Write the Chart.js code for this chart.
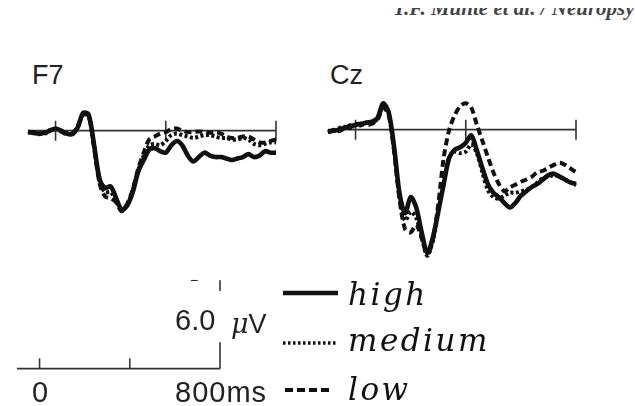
<!DOCTYPE html>
<html>
<head>
<meta charset="utf-8">
<script src="https://cdn.jsdelivr.net/npm/chart.js@4.4.0/dist/chart.umd.min.js"></script>
<style>
	body { margin: 0; background: #fff; }
	#page { position: relative; width: 635px; height: 406px; overflow: hidden; background: #fff; color: #222; }
	#page canvas { position: absolute; }
	.lbl { position: absolute; font-family: "Liberation Sans", Arial, sans-serif; line-height: 1; white-space: nowrap; }
	.leg { position: absolute; font-family: "DejaVu Serif", serif; font-style: italic; font-size: 31px; line-height: 1; white-space: nowrap; letter-spacing: 2.5px; color: #111; }
	#head { position: absolute; left: 393px; top: 8px; height: 12px; width: 242px; overflow: hidden; }
	#head span { position: absolute; left: 0; top: -10px; font-family: "Liberation Serif", serif; font-style: italic; font-weight: bold; font-size: 21px; line-height: 21px; color: #444; white-space: nowrap; }
	svg { position: absolute; left: 0; top: 0; }
</style>
</head>
<body>
<div id="page">
	<div id="head"><span>T.F. Münte et al. / Neuropsy</span></div>

	<div class="lbl" style="left:32px; top:62px; font-size:27px;">F7</div>
	<div class="lbl" style="left:330px; top:62px; font-size:27px;">Cz</div>

	<canvas id="f7" width="268" height="152" style="left:18px; top:84px;"></canvas>
	<canvas id="cz" width="268" height="196" style="left:318px; top:83px;"></canvas>
	<canvas id="bar" width="223" height="123" style="left:7px; top:263px;"></canvas>

	<div class="lbl" style="left:190px; top:273px; font-size:14px;">−</div>
	<div class="lbl" style="left:175px; top:306px; font-size:29px;">6.0</div>
	<div class="lbl" style="left:231px; top:310px; font-size:27px;"><span style="font-family:'DejaVu Serif',serif; font-style:italic;">μ</span>V</div>
	<div class="lbl" style="left:32px; top:378px; font-size:29px;">0</div>
	<div class="lbl" style="left:175px; top:378px; font-size:29px; letter-spacing:1px;">800ms</div>

	<svg width="635" height="406">
		<line x1="283" y1="293" x2="338" y2="293" stroke="#111" stroke-width="4.5"/>
		<line x1="283" y1="343" x2="338" y2="343" stroke="#111" stroke-width="3.5" stroke-dasharray="2.5 2.5"/>
		<line x1="285" y1="390" x2="331" y2="390" stroke="#111" stroke-width="4" stroke-dasharray="8 4"/>
	</svg>
	<div class="leg" style="left:348px; top:279px;">high</div>
	<div class="leg" style="left:348px; top:325px;">medium</div>
	<div class="leg" style="left:348px; top:374px;">low</div>
</div>

<script>
// time (ms) and amplitude (µV, negative up)
const times = [-100, -80, -60, -40, -20, 0, 20, 40, 60, 80, 100, 120, 140, 160, 180, 200, 220, 240, 260, 280,
	300, 320, 340, 360, 380, 400, 420, 440, 460, 480, 500, 520, 540, 560, 580, 600, 620, 640, 660, 680,
	700, 720, 740, 760, 780, 800];

const f7High = [0.1, 0.15, 0.2, 0.15, 0.0, -0.15, 0.0, 0.2, 0.25, -0.2, -1.2, -1.1, 1.0, 3.3, 3.9, 3.8, 4.6, 5.4, 5.1, 4.2,
	2.8, 2.0, 1.3, 1.2, 1.4, 1.5, 1.0, 0.7, 1.0, 1.7, 2.1, 1.8, 1.5, 1.7, 1.8, 1.8, 1.9, 2.0, 1.9, 1.8,
	1.6, 1.8, 1.7, 1.4, 1.5, 1.5];
const f7Medium = [0.05, 0.15, 0.2, 0.2, 0.0, -0.1, 0.05, 0.15, 0.2, -0.25, -1.1, -1.0, 1.1, 3.5, 4.2, 4.2, 4.8, 5.4, 5.1, 4.1,
	2.7, 1.7, 1.0, 0.9, 1.0, 0.7, 0.3, 0.2, 0.3, 0.4, 0.5, 0.4, 0.3, 0.3, 0.4, 0.5, 0.5, 0.6, 0.6, 0.5,
	0.6, 0.9, 1.0, 0.9, 0.8, 0.8];
const f7Low = [0.1, 0.1, 0.25, 0.1, -0.05, -0.1, 0.05, 0.25, 0.2, -0.3, -1.1, -1.0, 1.2, 3.6, 4.5, 4.6, 4.9, 5.5, 5.0, 4.0,
	2.6, 1.5, 0.6, 0.4, 0.2, 0.1, -0.1, -0.15, 0.0, 0.1, 0.1, 0.05, 0.1, 0.15, 0.1, 0.2, 0.4, 0.5, 0.5, 0.4,
	0.4, 0.6, 0.8, 0.8, 0.7, 0.6];

const czHigh = [0.14, 0.07, 0.0, -0.14, -0.2, -0.34, -0.4, -0.48, -0.55, -0.8, -1.8, -1.2, 1.2, 4.4, 5.7, 4.6, 5.3, 7.0, 8.4, 7.4,
	5.6, 3.7, 1.9, 1.36, 1.2, 0.9, 0.4, 1.4, 2.6, 3.7, 4.3, 4.6, 5.0, 5.3, 5.0, 4.5, 4.2, 3.9, 3.7, 3.4,
	3.1, 3.0, 3.2, 3.4, 3.6, 3.7];
const czMedium = [0.1, 0.1, -0.1, -0.2, -0.1, -0.3, -0.3, -0.5, -0.5, -0.75, -1.6, -1.1, 1.4, 4.7, 6.2, 5.6, 6.0, 7.3, 8.6, 7.6,
	5.7, 3.6, 1.9, 1.5, 1.6, 1.5, 1.0, 1.6, 2.9, 4.1, 4.6, 4.7, 4.5, 4.3, 4.3, 4.2, 4.1, 3.9, 3.6, 3.3,
	3.2, 3.1, 3.2, 3.4, 3.6, 3.8];
const czLow = [0.2, 0.0, 0.1, -0.1, -0.3, -0.2, -0.4, -0.3, -0.4, -0.7, -1.5, -1.0, 1.5, 4.8, 6.8, 7.0, 6.5, 7.4, 8.5, 7.6,
	5.1, 1.9, 0.0, -1.0, -1.6, -1.8, -1.5, -0.35, 0.75, 1.85, 2.9, 3.7, 4.2, 3.95, 3.75, 3.55, 3.4, 3.2, 2.9, 2.8,
	2.6, 2.4, 2.25, 2.4, 2.65, 2.9];

// axis ticks on each panel and the calibration bar
const axisTicks = [0, 400, 800];
const barTicks = [0, 400];
const barStart = -100;
const barEnd = 800;
const barVolts = 6.0;

const PAD = 10;
const INK = '#111';

function toPoints(xs, ys) {
	return xs.map((x, i) => ({x: x, y: ys[i]}));
}

function trace(values, dash, width) {
	return {
		data: toPoints(times, values),
		borderColor: INK,
		borderWidth: width,
		borderDash: dash,
		borderCapStyle: 'butt',
		borderJoinStyle: 'round',
		tension: 0.3,
		pointRadius: 0,
		fill: false,
		clip: false
	};
}

const axisPlugin = {
	id: 'axisLine',
	beforeDatasetsDraw(chart) {
		const ctx = chart.ctx;
		const xs = chart.scales.x, ys = chart.scales.y;
		const y0 = ys.getPixelForValue(0);
		ctx.save();
		ctx.strokeStyle = '#333';
		ctx.lineWidth = 1.6;
		ctx.beginPath();
		ctx.moveTo(xs.getPixelForValue(-100), y0);
		ctx.lineTo(xs.getPixelForValue(800), y0);
		axisTicks.forEach(t => {
			const x = xs.getPixelForValue(t);
			ctx.moveTo(x, y0 - 10);
			ctx.lineTo(x, y0 + 10);
		});
		ctx.stroke();
		ctx.restore();
	}
};

function panel(id, high, medium, low, yMin, yMax) {
	new Chart(document.getElementById(id), {
		type: 'line',
		data: {
			datasets: [
				trace(low, [7, 4], 4),
				trace(medium, [3, 2.5], 4),
				trace(high, [], 4.6)
			]
		},
		options: {
			animation: false,
			responsive: false,
			layout: {padding: PAD},
			plugins: {legend: {display: false}, tooltip: {enabled: false}},
			scales: {
				x: {type: 'linear', min: -100, max: 800, display: false},
				y: {type: 'linear', min: yMin, max: yMax, reverse: true, display: false}
			}
		},
		plugins: [axisPlugin]
	});
}

panel('f7', f7High, f7Medium, f7Low, -2.5, 6.5);
panel('cz', czHigh, czMedium, czLow, -2.5, 9.5);

// calibration bar: time bar with ticks, and the voltage bar (broken round the label)
function seg(points) {
	return {
		data: points,
		borderColor: '#333',
		borderWidth: 1.6,
		pointRadius: 0,
		tension: 0,
		fill: false,
		clip: false
	};
}

const barSets = [
	seg([{x: barStart, y: 0}, {x: barEnd, y: 0}]),
	seg([{x: barEnd, y: 0}, {x: barEnd, y: -barVolts * 0.3}]),
	seg([{x: barEnd, y: -barVolts * 0.88}, {x: barEnd, y: -barVolts}, {x: barEnd + 22, y: -barVolts}])
];
barTicks.forEach(t => barSets.push(seg([{x: t, y: 0}, {x: t, y: -0.7}])));

new Chart(document.getElementById('bar'), {
	type: 'line',
	data: {datasets: barSets},
	options: {
		animation: false,
		responsive: false,
		layout: {padding: PAD},
		plugins: {legend: {display: false}, tooltip: {enabled: false}},
		scales: {
			x: {type: 'linear', min: -100, max: 800, display: false},
			y: {type: 'linear', min: -6.5, max: 0.5, reverse: true, display: false}
		}
	}
});
</script>
</body>
</html>
